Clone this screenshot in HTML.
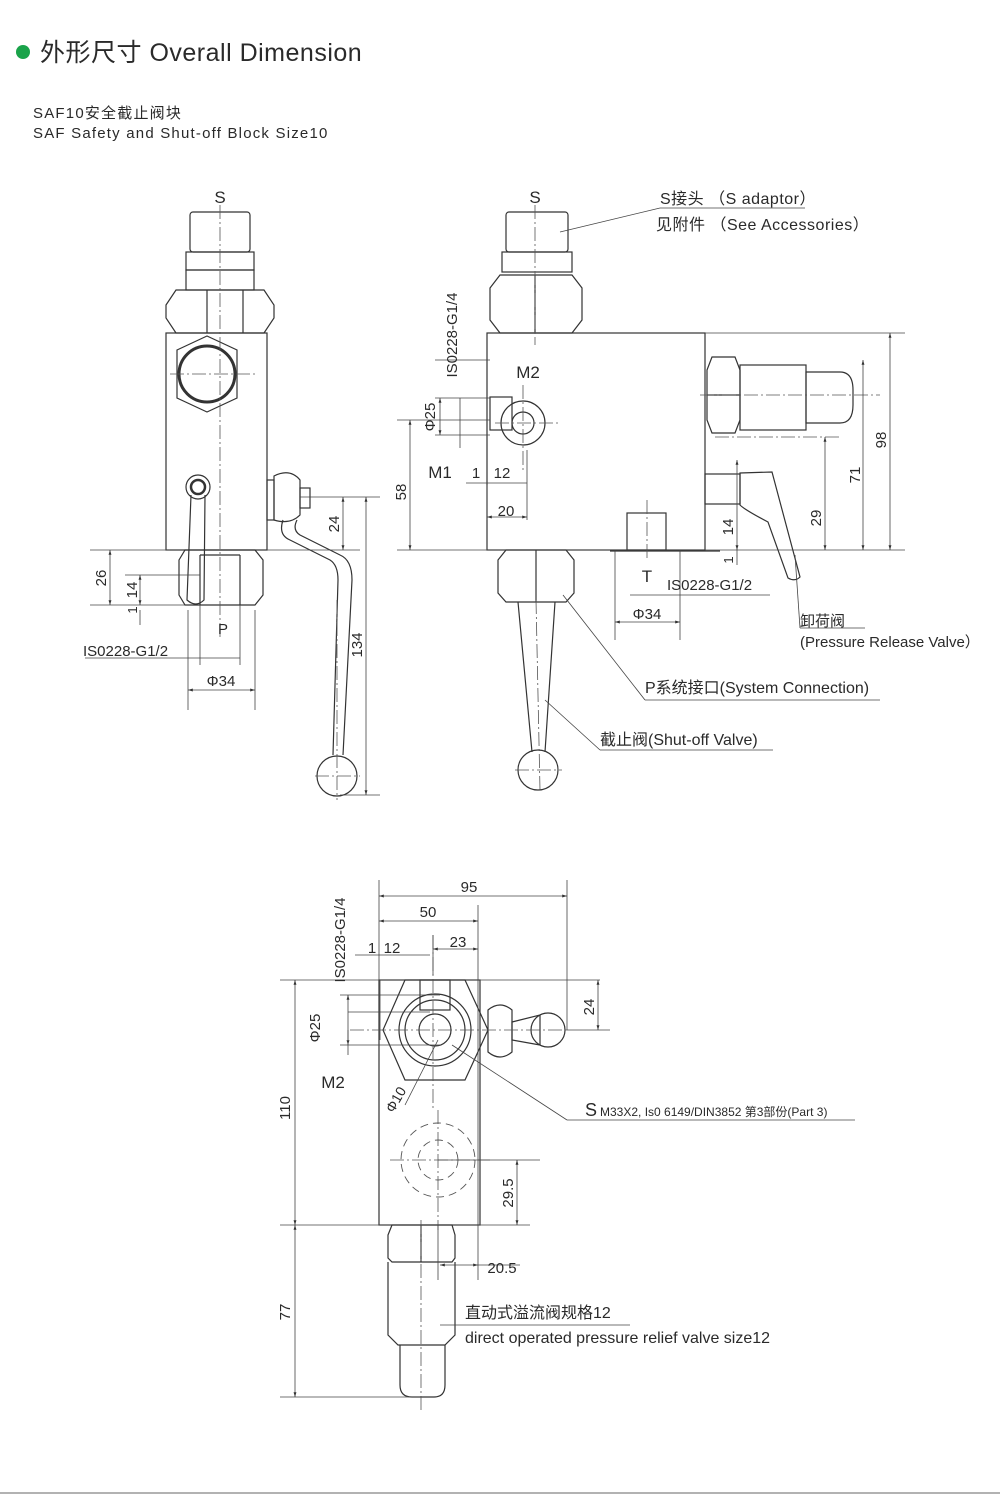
<!DOCTYPE html>
<html><head><meta charset="utf-8"><style>
html,body{margin:0;padding:0;background:#fff}
svg{display:block}
text{font-family:"Liberation Sans","Noto Sans CJK SC",sans-serif;fill:#2a2a2a}
</style></head><body>
<svg width="1000" height="1500" viewBox="0 0 1000 1500" xmlns="http://www.w3.org/2000/svg">
<defs>
<marker id="a" viewBox="0 0 10 10" refX="10" refY="5" markerWidth="6" markerHeight="6" orient="auto-start-reverse"><path d="M0,2 L10,5 L0,8z" fill="#333"/></marker>
</defs>
<circle cx="23" cy="52" r="7" fill="#1aa34a"/>
<text x="40" y="61" font-size="25" letter-spacing="0.5" fill="#333">外形尺寸 Overall Dimension</text>
<text x="33" y="118" font-size="15" letter-spacing="1.2">SAF10安全截止阀块</text>
<text x="33" y="138" font-size="15" letter-spacing="1.2">SAF Safety and Shut-off Block Size10</text>
<line x1="0" y1="1493" x2="1000" y2="1493" stroke="#999" stroke-width="1.5"/>

<g stroke="#333" stroke-width="1.2" fill="none">
<!-- VIEW 1 -->
<rect x="190" y="212" width="60" height="40" rx="3"/>
<rect x="186" y="252" width="68" height="18"/>
<rect x="186" y="270" width="68" height="20"/>
<path d="M166,305 L176,290 L264,290 L274,305 L274,318 L264,333 L176,333 L166,318Z"/>
<line x1="207" y1="290" x2="207" y2="333"/><line x1="243" y1="290" x2="243" y2="333"/>
<rect x="166" y="333" width="101" height="217"/>
<path d="M177,350 L207,336 L237,350 L237,398 L207,412 L177,398Z"/>
<circle cx="207" cy="374" r="28" stroke-width="3"/>
<circle cx="198" cy="487" r="12"/><circle cx="198" cy="487" r="7" stroke-width="2.5"/>
<path d="M191,495 L187,600 Q196,608 204,600 L205,495"/>
<path d="M179,560 L185,550 L255,550 L263,560 L263,595 L255,605 L185,605 L179,595Z"/>
<line x1="200" y1="555" x2="240" y2="555"/><line x1="200" y1="555" x2="200" y2="605"/><line x1="240" y1="555" x2="240" y2="605"/>
<rect x="267" y="480" width="7" height="40"/>
<path d="M274,476 Q290,468 300,480 L300,515 Q290,525 274,520Z"/>
<rect x="300" y="488" width="10" height="20"/>
<path d="M283,520 Q278,535 290,540 L330,560 Q338,565 338,580 L333,755 M297,520 Q292,530 300,535 L340,555 Q352,560 352,580 L343,755"/>
<circle cx="337" cy="776" r="20"/>
</g>
<g stroke="#555" stroke-width="0.8" fill="none" stroke-dasharray="14,3,2,3">
<line x1="220" y1="205" x2="220" y2="640"/><line x1="170" y1="374" x2="255" y2="374"/>
<line x1="337" y1="600" x2="337" y2="800"/><line x1="315" y1="776" x2="360" y2="776"/>
</g>
<g stroke="#444" stroke-width="0.8" fill="none">
<line x1="90" y1="550" x2="170" y2="550"/><line x1="90" y1="605" x2="185" y2="605"/><line x1="125" y1="575" x2="200" y2="575"/>
<line x1="110" y1="550" x2="110" y2="605" marker-start="url(#a)" marker-end="url(#a)"/>
<line x1="140" y1="575" x2="140" y2="605" marker-start="url(#a)" marker-end="url(#a)"/>
<line x1="140" y1="610" x2="140" y2="625"/>
<line x1="85" y1="658" x2="240" y2="658"/>
<line x1="200" y1="605" x2="200" y2="665"/><line x1="240" y1="605" x2="240" y2="665"/>
<line x1="188" y1="610" x2="188" y2="710"/><line x1="255" y1="610" x2="255" y2="710"/>
<line x1="188" y1="690" x2="255" y2="690" marker-start="url(#a)" marker-end="url(#a)"/>
<line x1="300" y1="497" x2="380" y2="497"/><line x1="267" y1="550" x2="360" y2="550"/><line x1="340" y1="795" x2="380" y2="795"/>
<line x1="343" y1="497" x2="343" y2="550" marker-start="url(#a)" marker-end="url(#a)"/>
<line x1="366" y1="497" x2="366" y2="795" marker-start="url(#a)" marker-end="url(#a)"/>
</g>
<text x="220" y="203" font-size="17" text-anchor="middle">S</text>
<text x="106" y="578" font-size="15" transform="rotate(-90 106 578)" text-anchor="middle">26</text>
<text x="137" y="590" font-size="15" transform="rotate(-90 137 590)" text-anchor="middle">14</text>
<text x="137" y="610" font-size="13" transform="rotate(-90 137 610)" text-anchor="middle">1</text>
<text x="223" y="634" font-size="15" text-anchor="middle">P</text>
<text x="83" y="656" font-size="15">IS0228-G1/2</text>
<text x="221" y="686" font-size="15" text-anchor="middle">Φ34</text>
<text x="339" y="524" font-size="15" transform="rotate(-90 339 524)" text-anchor="middle">24</text>
<text x="362" y="645" font-size="15" transform="rotate(-90 362 645)" text-anchor="middle">134</text>

<!-- VIEW 2 -->
<g stroke="#333" stroke-width="1.2" fill="none">
<rect x="506" y="212" width="62" height="40" rx="3"/>
<rect x="502" y="252" width="70" height="20"/>
<path d="M490,288 L500,275 L572,275 L582,288 L582,320 L572,333 L500,333 L490,320Z"/>
<line x1="535" y1="275" x2="535" y2="333"/>
<rect x="487" y="333" width="218" height="217"/>
<rect x="490" y="397" width="22" height="33"/>
<circle cx="523" cy="423" r="22"/><circle cx="523" cy="423" r="11"/>
<path d="M707,370 L712,357 L735,357 L740,370 L740,420 L735,433 L712,433 L707,420Z"/>
<line x1="707" y1="395" x2="740" y2="395"/>
<rect x="740" y="365" width="66" height="65"/>
<path d="M806,372 L840,372 Q853,372 853,390 L853,405 Q853,423 840,423 L806,423Z"/>
<rect x="705" y="474" width="35" height="30"/>
<path d="M740,473 L772,472 L800,577 Q795,582 788,578 L768,522 Q745,510 740,505Z"/>
<rect x="627" y="513" width="39" height="37"/>
<line x1="610" y1="551" x2="720" y2="551"/>
<path d="M498,560 L506,550 L566,550 L574,560 L574,593 L566,602 L506,602 L498,593Z"/>
<line x1="536" y1="550" x2="536" y2="602"/>
<path d="M518,602 L532,752 M555,602 L545,752"/>
<circle cx="538" cy="770" r="20"/>
</g>
<g stroke="#555" stroke-width="0.8" fill="none" stroke-dasharray="14,3,2,3">
<line x1="535" y1="205" x2="535" y2="345"/><line x1="523" y1="385" x2="523" y2="470"/><line x1="495" y1="423" x2="560" y2="423"/>
<line x1="700" y1="395" x2="880" y2="395"/><line x1="715" y1="437" x2="840" y2="437"/>
<line x1="647" y1="500" x2="647" y2="560"/><line x1="536" y1="600" x2="540" y2="790"/><line x1="515" y1="770" x2="562" y2="770"/>
</g>
<g stroke="#444" stroke-width="0.8" fill="none">
<line x1="397" y1="550" x2="905" y2="550"/>
<line x1="705" y1="333" x2="905" y2="333"/>
<line x1="890" y1="333" x2="890" y2="550" marker-start="url(#a)" marker-end="url(#a)"/>
<line x1="863" y1="360" x2="863" y2="550" marker-start="url(#a)" marker-end="url(#a)"/>
<line x1="825" y1="437" x2="825" y2="550" marker-start="url(#a)" marker-end="url(#a)"/>
<line x1="737" y1="460" x2="737" y2="550" marker-start="url(#a)" marker-end="url(#a)"/>
<line x1="737" y1="550" x2="737" y2="565"/>
<line x1="397" y1="420" x2="490" y2="420"/>
<line x1="410" y1="420" x2="410" y2="550" marker-start="url(#a)" marker-end="url(#a)"/>
<line x1="435" y1="360" x2="490" y2="360"/>
<line x1="440" y1="398" x2="440" y2="435" marker-start="url(#a)" marker-end="url(#a)"/>
<line x1="435" y1="398" x2="490" y2="398"/><line x1="435" y1="435" x2="490" y2="435"/>
<line x1="460" y1="398" x2="460" y2="448"/>
<line x1="466" y1="483" x2="527" y2="483"/>
<line x1="487" y1="485" x2="487" y2="520"/><line x1="527" y1="450" x2="527" y2="520"/>
<line x1="487" y1="517" x2="527" y2="517" marker-start="url(#a)" marker-end="url(#a)"/>
<line x1="615" y1="550" x2="615" y2="640"/><line x1="680" y1="550" x2="680" y2="640"/>
<line x1="615" y1="622" x2="680" y2="622" marker-start="url(#a)" marker-end="url(#a)"/>
<line x1="630" y1="595" x2="770" y2="595"/>
<line x1="560" y1="232" x2="660" y2="208"/><line x1="660" y1="208" x2="805" y2="208"/>
<line x1="563" y1="595" x2="645" y2="700"/><line x1="645" y1="700" x2="880" y2="700"/>
<line x1="545" y1="700" x2="600" y2="750"/><line x1="600" y1="750" x2="773" y2="750"/>
<line x1="795" y1="555" x2="800" y2="628"/><line x1="800" y1="628" x2="865" y2="628"/>
</g>
<text x="535" y="203" font-size="17" text-anchor="middle">S</text>
<text x="660" y="204" font-size="16" letter-spacing="0.5">S接头 （S adaptor）</text>
<text x="656" y="230" font-size="16" letter-spacing="0.5">见附件 （See Accessories）</text>
<text x="528" y="378" font-size="17" text-anchor="middle">M2</text>
<text x="457" y="335" font-size="15" transform="rotate(-90 457 335)" text-anchor="middle">IS0228-G1/4</text>
<text x="435" y="417" font-size="15" transform="rotate(-90 435 417)" text-anchor="middle">Φ25</text>
<text x="406" y="492" font-size="15" transform="rotate(-90 406 492)" text-anchor="middle">58</text>
<text x="440" y="478" font-size="17" text-anchor="middle">M1</text>
<text x="476" y="478" font-size="15" text-anchor="middle">1</text>
<text x="502" y="478" font-size="15" text-anchor="middle">12</text>
<text x="506" y="516" font-size="15" text-anchor="middle">20</text>
<text x="647" y="582" font-size="17" text-anchor="middle">T</text>
<text x="667" y="590" font-size="15">IS0228-G1/2</text>
<text x="647" y="619" font-size="15" text-anchor="middle">Φ34</text>
<text x="886" y="440" font-size="15" transform="rotate(-90 886 440)" text-anchor="middle">98</text>
<text x="860" y="475" font-size="15" transform="rotate(-90 860 475)" text-anchor="middle">71</text>
<text x="821" y="518" font-size="15" transform="rotate(-90 821 518)" text-anchor="middle">29</text>
<text x="733" y="527" font-size="15" transform="rotate(-90 733 527)" text-anchor="middle">14</text>
<text x="733" y="560" font-size="13" transform="rotate(-90 733 560)" text-anchor="middle">1</text>
<text x="800" y="626" font-size="15">卸荷阀</text>
<text x="800" y="647" font-size="15">(Pressure Release Valve）</text>
<text x="645" y="693" font-size="16">P系统接口(System Connection)</text>
<text x="600" y="745" font-size="16">截止阀(Shut-off Valve)</text>

<!-- VIEW 3 -->
<g stroke="#333" stroke-width="1.2" fill="none">
<rect x="379" y="980" width="101" height="245"/>
<path d="M383,1030 L405,980 L465,980 L488,1030 L465,1080 L405,1080Z"/>
<circle cx="435" cy="1030" r="36"/><circle cx="435" cy="1030" r="30"/><circle cx="435" cy="1030" r="16"/>
<rect x="420" y="980" width="30" height="30"/>
<path d="M488,1010 Q500,1000 512,1010 L512,1052 Q500,1062 488,1052Z"/>
<path d="M512,1022 L540,1015 L540,1045 L512,1040Z"/>
<circle cx="548" cy="1030" r="17"/>
<path d="M388,1235 L392,1225 L452,1225 L455,1235 L455,1258 L452,1262 L392,1262 L388,1258Z"/>
<line x1="421" y1="1225" x2="421" y2="1262"/>
<path d="M388,1262 L388,1335 L398,1345 L445,1345 L455,1335 L455,1262"/>
<path d="M400,1345 L400,1385 Q400,1397 412,1397 L434,1397 Q445,1397 445,1385 L445,1345"/>
</g>
<g stroke="#555" stroke-width="0.9" fill="none" stroke-dasharray="8,5">
<circle cx="438" cy="1160" r="37"/><circle cx="438" cy="1160" r="20"/>
</g>
<g stroke="#555" stroke-width="0.8" fill="none" stroke-dasharray="14,3,2,3">
<line x1="433" y1="935" x2="433" y2="1110"/><line x1="350" y1="1030" x2="570" y2="1030"/>
<line x1="390" y1="1160" x2="490" y2="1160"/><line x1="438" y1="1110" x2="438" y2="1230"/>
<line x1="421" y1="1220" x2="421" y2="1410"/>
</g>
<g stroke="#444" stroke-width="0.8" fill="none">
<line x1="379" y1="880" x2="379" y2="980"/><line x1="567" y1="880" x2="567" y2="1030"/>
<line x1="478" y1="905" x2="478" y2="1280"/><line x1="433" y1="935" x2="433" y2="975"/>
<line x1="379" y1="896" x2="567" y2="896" marker-start="url(#a)" marker-end="url(#a)"/>
<line x1="379" y1="921" x2="478" y2="921" marker-start="url(#a)" marker-end="url(#a)"/>
<line x1="433" y1="949" x2="478" y2="949" marker-start="url(#a)" marker-end="url(#a)"/>
<line x1="355" y1="955" x2="430" y2="955"/>
<line x1="380" y1="980" x2="380" y2="1040"/>
<line x1="280" y1="980" x2="600" y2="980"/>
<line x1="295" y1="980" x2="295" y2="1225" marker-start="url(#a)" marker-end="url(#a)"/>
<line x1="280" y1="1225" x2="530" y2="1225"/>
<line x1="295" y1="1225" x2="295" y2="1397" marker-start="url(#a)" marker-end="url(#a)"/>
<line x1="280" y1="1397" x2="420" y2="1397"/>
<line x1="598" y1="980" x2="598" y2="1030" marker-start="url(#a)" marker-end="url(#a)"/>
<line x1="567" y1="1030" x2="610" y2="1030"/>
<line x1="340" y1="995" x2="440" y2="995"/><line x1="340" y1="1045" x2="440" y2="1045"/>
<line x1="348" y1="995" x2="348" y2="1045" marker-start="url(#a)" marker-end="url(#a)"/>
<line x1="348" y1="1012" x2="430" y2="1012"/>
<line x1="348" y1="1030" x2="348" y2="1055"/>
<line x1="438" y1="1040" x2="405" y2="1105"/>
<line x1="438" y1="1160" x2="540" y2="1160"/>
<line x1="517" y1="1160" x2="517" y2="1225" marker-start="url(#a)" marker-end="url(#a)"/>
<line x1="440" y1="1265" x2="478" y2="1265" marker-start="url(#a)" marker-end="url(#a)"/>
<line x1="478" y1="1265" x2="520" y2="1265"/>
<line x1="438" y1="1225" x2="438" y2="1280"/>
<line x1="440" y1="1325" x2="630" y2="1325"/>
<line x1="452" y1="1045" x2="567" y2="1120"/><line x1="567" y1="1120" x2="855" y2="1120"/>
</g>
<text x="469" y="892" font-size="15" text-anchor="middle">95</text>
<text x="428" y="917" font-size="15" text-anchor="middle">50</text>
<text x="458" y="947" font-size="15" text-anchor="middle">23</text>
<text x="372" y="953" font-size="15" text-anchor="middle">1</text>
<text x="392" y="953" font-size="15" text-anchor="middle">12</text>
<text x="345" y="940" font-size="15" transform="rotate(-90 345 940)" text-anchor="middle">IS0228-G1/4</text>
<text x="320" y="1028" font-size="15" transform="rotate(-90 320 1028)" text-anchor="middle">Φ25</text>
<text x="333" y="1088" font-size="17" text-anchor="middle">M2</text>
<text x="290" y="1108" font-size="15" transform="rotate(-90 290 1108)" text-anchor="middle">110</text>
<text x="290" y="1312" font-size="15" transform="rotate(-90 290 1312)" text-anchor="middle">77</text>
<text x="400" y="1102" font-size="14" transform="rotate(-60 400 1102)" text-anchor="middle">Φ10</text>
<text x="594" y="1007" font-size="15" transform="rotate(-90 594 1007)" text-anchor="middle">24</text>
<text x="513" y="1193" font-size="15" transform="rotate(-90 513 1193)" text-anchor="middle">29.5</text>
<text x="502" y="1273" font-size="15" text-anchor="middle">20.5</text>
<text x="585" y="1116" font-size="18">S</text>
<text x="600" y="1116" font-size="12">M33X2,  Is0 6149/DIN3852  第3部份(Part 3)</text>
<text x="465" y="1318" font-size="16">直动式溢流阀规格12</text>
<text x="465" y="1343" font-size="16">direct operated pressure relief valve size12</text>
</svg>
</body></html>
